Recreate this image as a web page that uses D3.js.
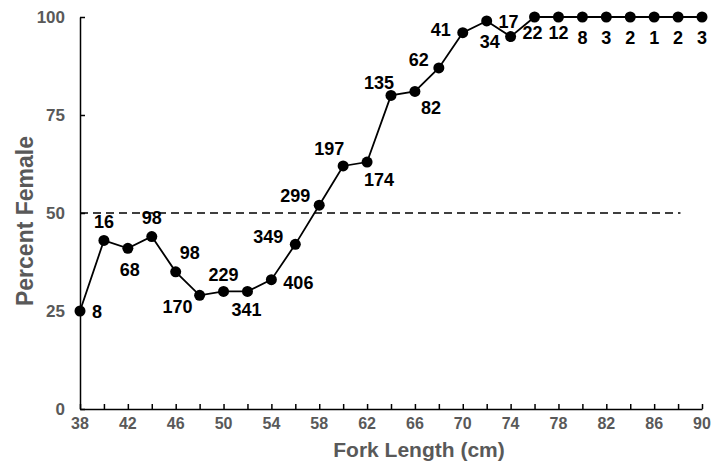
<!DOCTYPE html>
<html>
<head>
<meta charset="utf-8">
<script src="https://cdn.jsdelivr.net/npm/d3@7"></script>
<style>
  body { margin: 0; background: #fff; }
  text { font-family: Arial, "Liberation Sans", sans-serif; font-weight: bold; }
</style>
</head>
<body>
<div id="chart"></div>
<script>
// percent female by fork length, with sample sizes

const width = 713
const height = 465

// fork length (cm)
const lengths = [38, 40, 42, 44, 46, 48, 50, 52, 54, 56, 58, 60, 62, 64, 66, 68, 70, 72, 74, 76, 78, 80, 82, 84, 86, 88, 90]
// percent female
const pctFemale = [25, 43, 41, 44, 35, 29, 30, 30, 33, 42, 52, 62, 63, 80, 81, 87, 96, 99, 95, 100, 100, 100, 100, 100, 100, 100, 100]
// sample size per bin
const sampleN = [8, 16, 68, 98, 98, 170, 229, 341, 406, 349, 299, 197, 174, 135, 82, 62, 41, 34, 17, 22, 12, 8, 3, 2, 1, 2, 3]

const xTicks = [38, 42, 46, 50, 54, 58, 62, 66, 70, 74, 78, 82, 86, 90]
const yTicks = [0, 25, 50, 75, 100]
const refLine = 50

// where each n label sits relative to its point (px)
const labelOff = [
  [17, 1], [0, -19], [2, 21], [0, -19], [14, -19], [-22, 11], [0, -17], [-1, 18], [27, 3],
  [-27, -8], [-24, -10], [-14, -17], [12, 17], [-12, -13], [16, 16], [-20, -8], [-22, -3],
  [3, 21], [-2, -15], [-2, 16], [0, 16], [0, 21], [0, 21], [0, 21], [0, 21], [0, 21], [0, 21]
]

const margin = {top: 17, right: 11, bottom: 56, left: 80}
const grey = "#595959"

const svg = d3.select("#chart")
  .append("svg")
  .attr("width", width)
  .attr("height", height)

const x = d3.scaleLinear().domain([38, 90]).range([margin.left, width - margin.right])
const y = d3.scaleLinear().domain([0, 100]).range([height - margin.bottom, margin.top])

// x axis: ticks every 2 cm pointing inward, labels every 4
const xAxis = svg.append("g")
  .attr("transform", "translate(0," + y(0) + ")")
  .call(d3.axisBottom(x).tickValues(d3.range(38, 91, 2)).tickSize(-5).tickSizeOuter(0).tickFormat(""))
xAxis.select(".domain").attr("stroke", "#000").attr("stroke-width", 1.5)
xAxis.selectAll(".tick line").attr("stroke", "#000").attr("stroke-width", 1.5)

svg.append("g").selectAll("text")
  .data(xTicks)
  .join("text")
  .attr("x", d => x(d))
  .attr("y", y(0) + 20)
  .attr("text-anchor", "middle")
  .attr("font-size", 16)
  .attr("fill", grey)
  .text(d => d)

// y axis
const yAxis = svg.append("g")
  .attr("transform", "translate(" + x(38) + ",0)")
  .call(d3.axisLeft(y).tickValues(yTicks).tickSize(-5).tickSizeOuter(0).tickFormat(""))
yAxis.select(".domain").attr("stroke", "#000").attr("stroke-width", 1.5)
yAxis.selectAll(".tick line").attr("stroke", "#000").attr("stroke-width", 1.5)

svg.append("g").selectAll("text")
  .data(yTicks)
  .join("text")
  .attr("x", x(38) - 15)
  .attr("y", d => y(d))
  .attr("dy", "0.35em")
  .attr("text-anchor", "end")
  .attr("font-size", 17)
  .attr("fill", grey)
  .text(d => d)

// axis titles
svg.append("text")
  .attr("x", (x(38) + x(90)) / 2 + 28)
  .attr("y", height - 8)
  .attr("text-anchor", "middle")
  .attr("font-size", 21)
  .attr("fill", grey)
  .text("Fork Length (cm)")

svg.append("text")
  .attr("transform", "translate(33," + ((y(0) + y(100)) / 2 + 8) + ") rotate(-90)")
  .attr("text-anchor", "middle")
  .attr("font-size", 23)
  .attr("fill", grey)
  .text("Percent Female")

// 50% reference
svg.append("line")
  .attr("x1", x(38))
  .attr("x2", x(88.2))
  .attr("y1", y(refLine))
  .attr("y2", y(refLine))
  .attr("stroke", "#000")
  .attr("stroke-width", 1.6)
  .attr("stroke-dasharray", "8,5")

const pts = lengths.map((d, i) => ({len: d, pct: pctFemale[i], n: sampleN[i], off: labelOff[i]}))

svg.append("path")
  .datum(pts)
  .attr("d", d3.line().x(d => x(d.len)).y(d => y(d.pct)))
  .attr("fill", "none")
  .attr("stroke", "#000")
  .attr("stroke-width", 1.8)

svg.append("g").selectAll("circle")
  .data(pts)
  .join("circle")
  .attr("cx", d => x(d.len))
  .attr("cy", d => y(d.pct))
  .attr("r", 5.5)
  .attr("fill", "#000")

svg.append("g").selectAll("text")
  .data(pts)
  .join("text")
  .attr("x", d => x(d.len) + d.off[0])
  .attr("y", d => y(d.pct) + d.off[1])
  .attr("dy", "0.36em")
  .attr("text-anchor", "middle")
  .attr("font-size", 18)
  .attr("fill", "#000")
  .text(d => d.n)
</script>
</body>
</html>
